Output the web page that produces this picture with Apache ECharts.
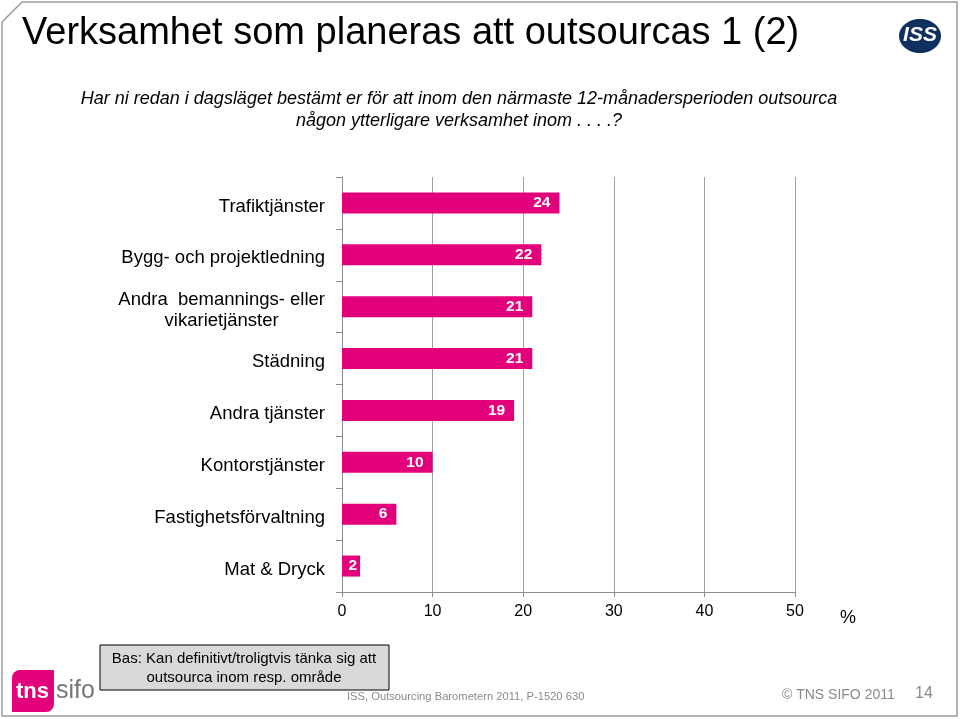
<!DOCTYPE html>
<html><head><meta charset="utf-8">
<script src="https://cdn.jsdelivr.net/npm/echarts@6/dist/echarts.min.js"></script>
<style>html,body{margin:0;padding:0;background:#fff}#c{width:960px;height:719px}</style>
</head><body><div id="c"></div>
<script>
const categories = ["Trafiktjänster","Bygg- och projektledning","Andra  bemannings- eller\nvikarietjänster","Städning","Andra tjänster","Kontorstjänster","Fastighetsförvaltning","Mat & Dryck"];
const values = [24,22,21,21,19,10,6,2];
const xTicks = [0,10,20,30,40,50];
const FONT = '"Liberation Sans", Arial, sans-serif';
const chart = echarts.init(document.getElementById('c'), null, {renderer:'canvas'});
const barData = values.map(v => v < 4 ? {value:v,label:{distance:3}} : v);
chart.setOption({
  animation:false,
  backgroundColor:'#fff',
  grid:{left:342,right:165,top:177,bottom:127,containLabel:false},
  xAxis:{type:'value',min:xTicks[0],max:xTicks[xTicks.length-1],interval:10,
    axisLine:{show:true,lineStyle:{color:'#8c8c8c',width:1}},
    axisTick:{show:true,length:5,lineStyle:{color:'#8c8c8c'}},
    splitLine:{show:true,lineStyle:{color:'#a0a0a0',width:1}},
    axisLabel:{color:'#000',fontFamily:FONT,fontSize:16,margin:12}
  },
  yAxis:{type:'category',data:categories,inverse:true,
    axisLine:{show:true,lineStyle:{color:'#8c8c8c',width:1}},
    axisTick:{show:true,length:6,lineStyle:{color:'#8c8c8c'}},
    axisLabel:{color:'#000',fontFamily:FONT,fontSize:18.5,margin:17,lineHeight:21,padding:[7,0,0,0],
      formatter:function(v){return v.split('\n').map(s=>'{c|'+s+'}').join('\n');},
      rich:{c:{align:'center',fontFamily:FONT,fontSize:18.5,color:'#000',lineHeight:21}}
    }
  },
  series:[{type:'bar',data:barData,barWidth:21,
    itemStyle:{color:'#e3007b'},
    label:{show:true,position:'insideRight',color:'#fff',fontFamily:FONT,fontSize:15.5,fontWeight:'bold',distance:9}
  }],
  graphic:[
    {type:'polyline',shape:{points:[[22,2],[957,2],[957,716],[2,716],[2,22],[22,2]]},style:{fill:'none',stroke:'#9a9a9a',lineWidth:1.5},z:100},
    {type:'text',left:22,top:15,style:{text:'Verksamhet som planeras att outsourcas 1 (2)',fontFamily:FONT,fontSize:38,fill:'#000'}},
    {type:'text',x:459,y:88,style:{text:'Har ni redan i dagsläget bestämt er för att inom den närmaste 12-månadersperioden outsourca\nnågon ytterligare verksamhet inom . . . .?',fontFamily:FONT,fontSize:18,fontStyle:'italic',fill:'#000',align:'center',lineHeight:22}},
    {type:'text',x:840,y:609,style:{text:'%',fontFamily:FONT,fontSize:18,fill:'#000'}},
    {type:'rect',shape:{x:100,y:645,width:289,height:45},style:{fill:'#d9d9d9',stroke:'#000',lineWidth:1}},
    {type:'text',x:244,y:649,style:{text:'Bas: Kan definitivt/troligtvis tänka sig att\noutsourca inom resp. område',fontFamily:FONT,fontSize:15,fill:'#000',align:'center',lineHeight:19}},
    {type:'text',x:347,y:691,style:{text:'ISS, Outsourcing Barometern 2011, P-1520 630',fontFamily:FONT,fontSize:11.2,fill:'#8a8a8a'}},
    {type:'text',x:782,y:688,style:{text:'© TNS SIFO 2011',fontFamily:FONT,fontSize:14,fill:'#8a8a8a'}},
    {type:'text',x:915,y:686,style:{text:'14',fontFamily:FONT,fontSize:16,fill:'#8a8a8a'}},
    {type:'rect',shape:{x:12,y:670,width:42,height:42,r:[8,0,8,0]},style:{fill:'#e3007b'}},
    {type:'text',x:16,y:681,style:{text:'tns',fontFamily:FONT,fontSize:22,fontWeight:'bold',fill:'#fff'}},
    {type:'text',x:56,y:679,style:{text:'sifo',fontFamily:FONT,fontSize:25,fill:'#777'}},
    {type:'ellipse',shape:{cx:920,cy:36,rx:21,ry:17},style:{fill:'#10305f'}},
    {type:'text',x:920,y:25,style:{text:'ISS',fontFamily:FONT,fontSize:21,fontWeight:'bold',fontStyle:'italic',fill:'#fff',align:'center'}}
  ]
});
</script></body></html>
